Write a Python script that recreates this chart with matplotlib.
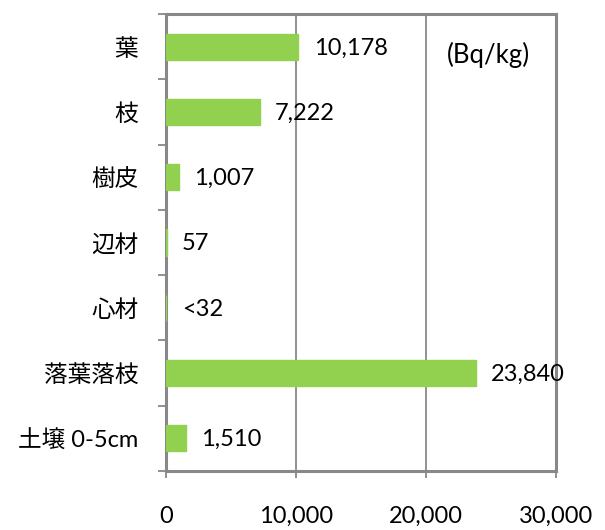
import matplotlib.pyplot as plt

plt.rcParams['font.family'] = ['Lato', 'Noto Sans CJK JP', 'DejaVu Sans']

categories = ['葉', '枝', '樹皮', '辺材', '心材', '落葉落枝', '土壌 0-5cm']
values = [10178, 7222, 1007, 57, 32, 23840, 1510]
labels = ['10,178', '7,222', '1,007', '57', '<32', '23,840', '1,510']
xticks = [0, 10000, 20000, 30000]
xticklabels = ['0', '10,000', '20,000', '30,000']

fig = plt.figure(figsize=(6.05, 5.3), dpi=100)
ax = fig.add_axes([166/605, 1 - 471/530, (556 - 166)/605, (471 - 14)/530])

n = len(categories)
ypos = list(range(n))
# thin edge so the tiny bars still show
ax.barh(ypos, values, height=0.4, color='#92D050', edgecolor='#92D050',
        linewidth=1, zorder=3)
ax.set_ylim(n - 0.5, -0.5)
ax.set_xlim(0, 30000)

for y, v, lab in zip(ypos, values, labels):
    ax.annotate(lab, (v, y), xytext=(11, -1), textcoords='offset points',
                ha='left', va='center', fontsize=17, color='black', zorder=4)

ax.text(24800, 0.12, '(Bq/kg)', ha='center', va='center', fontsize=18.5)

# gridlines
ax.set_xticks(xticks)
ax.set_xticklabels(xticklabels, fontsize=17)
ax.xaxis.grid(True, color='#888888', linewidth=1.3, zorder=1)
ax.tick_params(axis='x', length=5, width=1.3, color='#888888', pad=20)

# y labels in center, ticks at boundaries
ax.set_yticks(ypos)
ax.set_yticklabels(categories, fontsize=17)
ax.tick_params(axis='y', which='major', length=0, pad=20)
ax.set_yticks([i + 0.5 for i in range(-1, n)], minor=True)
ax.tick_params(axis='y', which='minor', length=6, width=1.3, color='#888888')

for s in ax.spines.values():
    s.set_color('#888888')
    s.set_linewidth(2.2)

fig.savefig('out.png', dpi=100)
